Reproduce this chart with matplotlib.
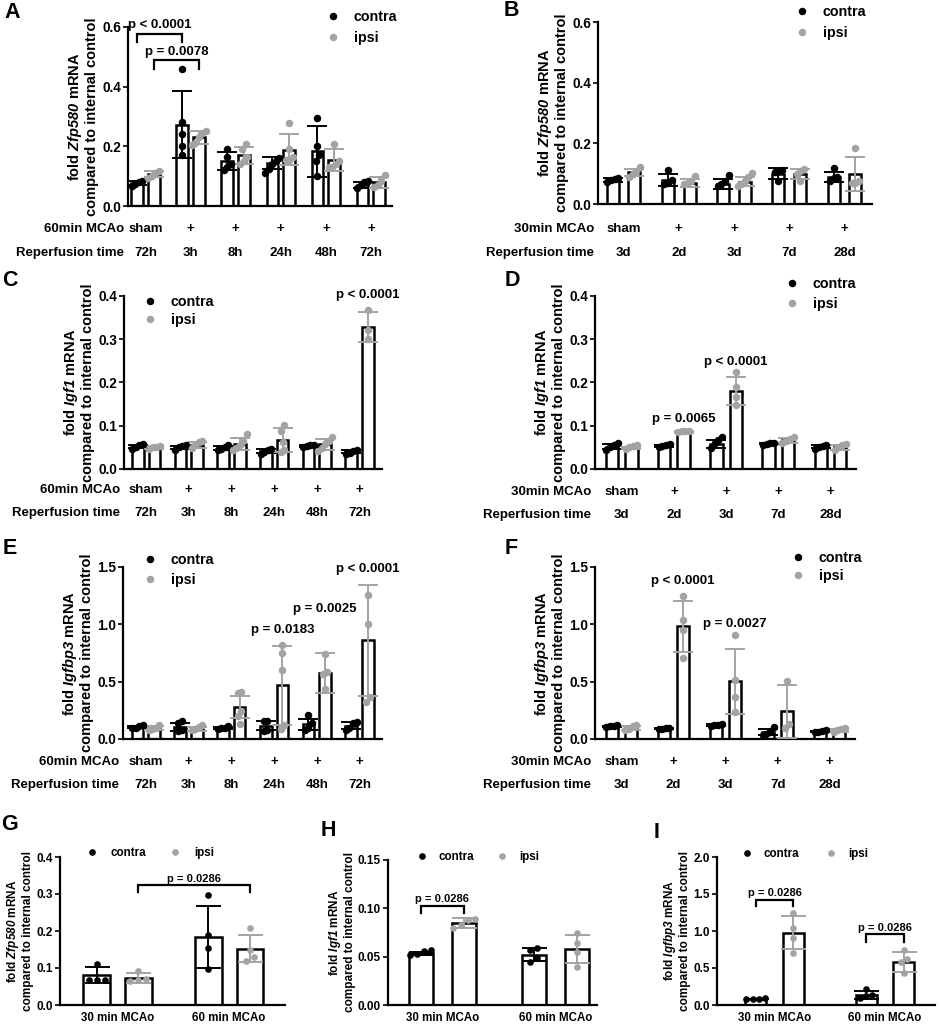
import numpy as np
import matplotlib.pyplot as plt
from matplotlib.lines import Line2D

plt.rcParams['font.family'] = ['Liberation Sans', 'DejaVu Sans']
plt.rcParams['font.weight'] = 'bold'
plt.rcParams['axes.labelweight'] = 'bold'
# gene names are the only math text: keep letters and digits bold italic
plt.rcParams['mathtext.fontset'] = 'custom'
plt.rcParams['mathtext.rm'] = 'Liberation Sans:italic:bold'
plt.rcParams['mathtext.it'] = 'Liberation Sans:italic:bold'
plt.rcParams['mathtext.bf'] = 'Liberation Sans:italic:bold'

W, H = 941, 1025
BLACK = '#000000'
GREY = '#a3a3a3'

# ---------------- data ----------------
mcao_60 = ['sham', '+', '+', '+', '+', '+']
time_60 = ['72h', '3h', '8h', '24h', '48h', '72h']
mcao_30 = ['sham', '+', '+', '+', '+']
time_30 = ['3d', '2d', '3d', '7d', '28d']
groups_gh = ['30 min MCAo', '60 min MCAo']

# A: Zfp580, 60 min MCAo
a_contra_mean = [0.077, 0.273, 0.150, 0.144, 0.183, 0.072]
a_contra_sd = [0.006, 0.112, 0.030, 0.020, 0.085, 0.010]
a_ipsi_mean = [0.106, 0.231, 0.170, 0.189, 0.153, 0.080]
a_ipsi_sd = [0.010, 0.022, 0.028, 0.053, 0.037, 0.018]
a_contra_pts = [[0.085, 0.082, 0.075, 0.068], [0.458, 0.28, 0.24, 0.20, 0.17],
                [0.192, 0.165, 0.14, 0.13, 0.12], [0.16, 0.15, 0.14, 0.125, 0.11],
                [0.296, 0.20, 0.17, 0.15, 0.10], [0.085, 0.08, 0.07, 0.06]]
a_ipsi_pts = [[0.118, 0.112, 0.10, 0.095], [0.252, 0.245, 0.23, 0.21, 0.205],
              [0.208, 0.192, 0.165, 0.15, 0.14], [0.279, 0.19, 0.165, 0.155, 0.155],
              [0.207, 0.15, 0.14, 0.13, 0.13], [0.105, 0.085, 0.07, 0.065]]

# B: Zfp580, 30 min MCAo
b_contra_mean = [0.080, 0.080, 0.066, 0.100, 0.089]
b_contra_sd = [0.006, 0.020, 0.015, 0.018, 0.018]
b_ipsi_mean = [0.104, 0.069, 0.074, 0.100, 0.100]
b_ipsi_sd = [0.012, 0.012, 0.016, 0.017, 0.056]
b_contra_pts = [[0.085, 0.083, 0.078, 0.072], [0.112, 0.08, 0.07, 0.065],
                [0.095, 0.075, 0.065, 0.06], [0.112, 0.11, 0.105, 0.075],
                [0.12, 0.09, 0.085, 0.075]]
b_ipsi_pts = [[0.122, 0.11, 0.10, 0.09], [0.092, 0.075, 0.07, 0.065],
              [0.102, 0.09, 0.075, 0.065, 0.06], [0.115, 0.11, 0.10, 0.075],
              [0.184, 0.075, 0.07, 0.07]]

# C: Igf1, 60 min MCAo
c_contra_mean = [0.052, 0.050, 0.049, 0.042, 0.054, 0.040]
c_contra_sd = [0.004, 0.004, 0.005, 0.005, 0.002, 0.004]
c_ipsi_mean = [0.050, 0.056, 0.058, 0.067, 0.057, 0.329]
c_ipsi_sd = [0.003, 0.007, 0.014, 0.027, 0.013, 0.035]
c_contra_pts = [[0.058, 0.055, 0.05, 0.047], [0.055, 0.053, 0.05, 0.045],
                [0.056, 0.05, 0.047, 0.044], [0.047, 0.045, 0.04, 0.035],
                [0.056, 0.055, 0.054, 0.052], [0.045, 0.042, 0.038, 0.035]]
c_ipsi_pts = [[0.054, 0.051, 0.05, 0.047], [0.065, 0.062, 0.055, 0.048],
              [0.08, 0.065, 0.055, 0.048, 0.043], [0.102, 0.088, 0.062, 0.045, 0.04],
              [0.073, 0.065, 0.058, 0.048, 0.042], [0.368, 0.321, 0.30]]

# D: Igf1, 30 min MCAo
d_contra_mean = [0.052, 0.054, 0.058, 0.059, 0.052]
d_contra_sd = [0.006, 0.002, 0.010, 0.002, 0.004]
d_ipsi_mean = [0.049, 0.086, 0.181, 0.066, 0.050]
d_ipsi_sd = [0.003, 0.002, 0.032, 0.006, 0.005]
d_contra_pts = [[0.061, 0.055, 0.05, 0.045], [0.057, 0.055, 0.054, 0.052],
                [0.073, 0.068, 0.06, 0.048], [0.061, 0.06, 0.058, 0.056],
                [0.055, 0.053, 0.05, 0.046]]
d_ipsi_pts = [[0.055, 0.053, 0.05, 0.047], [0.089, 0.088, 0.087, 0.085],
              [0.224, 0.19, 0.166, 0.148], [0.075, 0.07, 0.065, 0.06],
              [0.057, 0.055, 0.05, 0.045]]

# E: Igfbp3, 60 min MCAo
e_contra_mean = [0.105, 0.105, 0.098, 0.115, 0.130, 0.115]
e_contra_sd = [0.008, 0.035, 0.010, 0.040, 0.048, 0.030]
e_ipsi_mean = [0.096, 0.090, 0.280, 0.470, 0.578, 0.860]
e_ipsi_sd = [0.017, 0.018, 0.095, 0.345, 0.175, 0.485]
e_contra_pts = [[0.12, 0.11, 0.10, 0.095], [0.154, 0.14, 0.08, 0.07],
                [0.11, 0.10, 0.095, 0.09], [0.16, 0.155, 0.08, 0.07],
                [0.212, 0.14, 0.10, 0.08], [0.15, 0.14, 0.10, 0.08]]
e_ipsi_pts = [[0.12, 0.10, 0.09, 0.08], [0.12, 0.105, 0.09, 0.075],
              [0.41, 0.405, 0.245, 0.20, 0.134], [0.817, 0.753, 0.605, 0.12, 0.09],
              [0.744, 0.58, 0.57, 0.433], [1.253, 1.006, 0.366, 0.323]]

# F: Igfbp3, 30 min MCAo
f_contra_mean = [0.110, 0.090, 0.120, 0.061, 0.067]
f_contra_sd = [0.007, 0.007, 0.007, 0.030, 0.007]
f_ipsi_mean = [0.096, 0.985, 0.503, 0.240, 0.075]
f_ipsi_sd = [0.020, 0.222, 0.285, 0.235, 0.016]
f_contra_pts = [[0.12, 0.115, 0.11, 0.105], [0.10, 0.095, 0.09, 0.085],
                [0.13, 0.125, 0.12, 0.115], [0.105, 0.06, 0.045, 0.035],
                [0.075, 0.07, 0.065, 0.06]]
f_ipsi_pts = [[0.125, 0.11, 0.09, 0.08], [1.244, 1.035, 0.948, 0.709],
              [0.904, 0.517, 0.366, 0.235], [0.503, 0.134, 0.096],
              [0.095, 0.09, 0.08, 0.06]]

# G: Zfp580, 3d reperfusion
g_contra_mean = [0.081, 0.184]
g_contra_sd = [0.022, 0.083]
g_ipsi_mean = [0.073, 0.152]
g_ipsi_sd = [0.013, 0.037]
g_contra_pts = [[0.112, 0.068, 0.068, 0.068], [0.296, 0.188, 0.154, 0.097]]
g_ipsi_pts = [[0.091, 0.07, 0.068, 0.065], [0.208, 0.15, 0.13, 0.12]]

# H: Igf1
h_contra_mean = [0.0535, 0.052]
h_contra_sd = [0.0015, 0.0065]
h_ipsi_mean = [0.0848, 0.0576]
h_ipsi_sd = [0.0055, 0.0145]
h_contra_pts = [[0.0565, 0.0555, 0.053, 0.052], [0.0587, 0.057, 0.049, 0.044]]
h_ipsi_pts = [[0.0887, 0.088, 0.083, 0.0795], [0.074, 0.064, 0.055, 0.0397]]

# I: Igfbp3
i_contra_mean = [0.080, 0.135]
i_contra_sd = [0.004, 0.050]
i_ipsi_mean = [0.975, 0.585]
i_ipsi_sd = [0.222, 0.137]
i_contra_pts = [[0.09, 0.085, 0.085, 0.08], [0.211, 0.135, 0.12, 0.09]]
i_ipsi_pts = [[1.245, 1.034, 0.912, 0.706], [0.75, 0.616, 0.575, 0.427]]


def px_rect(l, t, r, b):
    return [l / W, 1 - b / H, (r - l) / W, (b - t) / H]


def spread(vals, thr, step):
    # simple column-scatter layout: points closer than thr get pushed sideways
    vals = np.asarray(vals, float)
    order = np.argsort(vals)
    offs = np.zeros(len(vals))
    clusters, cur = [], [order[0]]
    for i in order[1:]:
        if vals[i] - vals[cur[-1]] < thr:
            cur.append(i)
        else:
            clusters.append(cur)
            cur = [i]
    clusters.append(cur)
    for c in clusters:
        k = len(c)
        for j, idx in enumerate(c):
            offs[idx] = (j - (k - 1) / 2) * step
    return offs


def draw_series(ax, x, means, sds, pts, color, bw, thr, step, ms, cap):
    ax.bar(x, means, width=bw, color='white', edgecolor='black', linewidth=1.8, zorder=2)
    ax.errorbar(x, means, yerr=sds, fmt='none', ecolor=color, elinewidth=1.4,
                capsize=cap, capthick=1.4, zorder=3)
    for xx, p in zip(x, pts):
        off = spread(p, thr, step)
        ax.plot(xx + off, p, 'o', color=color, markersize=ms, markeredgewidth=0,
                zorder=4, clip_on=False)


def bracket(ax, x1, x2, y, h, text, fs):
    ax.plot([x1, x1, x2, x2], [y - h, y, y, y - h], color='black', lw=1.6,
            solid_joinstyle='miter', zorder=5, clip_on=False)
    ax.text((x1 + x2) / 2, y + h * 0.25, text, ha='center', va='bottom',
            fontsize=fs, fontweight='bold')


def style_axes(ax, ymax, yticks, fmt, tick_fs):
    for s in ['top', 'right']:
        ax.spines[s].set_visible(False)
    for s in ['left', 'bottom']:
        ax.spines[s].set_linewidth(1.6)
    ax.set_ylim(0, ymax)
    ax.set_yticks(yticks)
    ax.set_yticklabels([fmt % t for t in yticks], fontsize=tick_fs, fontweight='bold')
    ax.tick_params(axis='y', direction='out', length=3.6, width=1.2, pad=1.5)
    ax.tick_params(axis='x', length=0)
    ax.patch.set_alpha(0)


def add_legend(ax, fig, x_marker, y_row, fs, ms, pad, spacing, ncol=1, colsp=0):
    hl = 1.0
    fs_px = fs * 100 / 72
    x0 = x_marker - hl * fs_px / 2
    y0 = y_row - fs_px * 0.62
    handles = [Line2D([], [], ls='none', marker='o', color=BLACK, markersize=ms, markeredgewidth=0),
               Line2D([], [], ls='none', marker='o', color=GREY, markersize=ms, markeredgewidth=0)]
    ax.legend(handles, ['contra', 'ipsi'], loc='upper left',
              bbox_to_anchor=(x0 / W, 1 - y0 / H), bbox_transform=fig.transFigure,
              frameon=False, borderpad=0, borderaxespad=0, handlelength=hl,
              handletextpad=pad, labelspacing=spacing, ncol=ncol, columnspacing=colsp,
              prop={'size': fs, 'weight': 'bold'})


fig = plt.figure(figsize=(W / 100, H / 100), dpi=100)

top_panels = [
    dict(rect=(128, 27, 392, 206), gene='Zfp580', ymax=0.6, yt=[0, 0.2, 0.4, 0.6], fmt='%.1f',
         gs=2.7, bw=0.7, xlim=(-0.54, 15.26), mcao='60min MCAo', mc=mcao_60, tm=time_60,
         data=(a_contra_mean, a_contra_sd, a_contra_pts, a_ipsi_mean, a_ipsi_sd, a_ipsi_pts),
         leg=(333, 19, 0.45), rows=(23, 47), letter=('A', 12, 12)),
    dict(rect=(598, 22, 872, 204), gene='Zfp580', ymax=0.6, yt=[0, 0.2, 0.4, 0.6], fmt='%.1f',
         gs=2.55, bw=0.55, xlim=(-0.68, 11.97), mcao='30min MCAo', mc=mcao_30, tm=time_30,
         data=(b_contra_mean, b_contra_sd, b_contra_pts, b_ipsi_mean, b_ipsi_sd, b_ipsi_pts),
         leg=(802, 14, 0.45), rows=(25, 49), letter=('B', 511, 11)),
    dict(rect=(124, 296, 382, 469), gene='Igf1', ymax=0.4, yt=[0, 0.1, 0.2, 0.3, 0.4], fmt='%.1f',
         gs=2.56, bw=0.7, xlim=(-0.82, 14.64), mcao='60min MCAo', mc=mcao_60, tm=time_60,
         data=(c_contra_mean, c_contra_sd, c_contra_pts, c_ipsi_mean, c_ipsi_sd, c_ipsi_pts),
         leg=(150, 304, 0.3), rows=(21, 44), letter=('C', 10, 280)),
    dict(rect=(595, 296, 856, 469), gene='Igf1', ymax=0.4, yt=[0, 0.1, 0.2, 0.3, 0.4], fmt='%.1f',
         gs=2.7, bw=0.64, xlim=(-0.88, 12.62), mcao='30min MCAo', mc=mcao_30, tm=time_30,
         data=(d_contra_mean, d_contra_sd, d_contra_pts, d_ipsi_mean, d_ipsi_sd, d_ipsi_pts),
         leg=(792, 286, 0.4), rows=(23, 46), letter=('D', 512, 280)),
    dict(rect=(123, 567, 382, 739), gene='Igfbp3', ymax=1.5, yt=[0, 0.5, 1.0, 1.5], fmt='%.1f',
         gs=2.56, bw=0.7, xlim=(-0.86, 14.64), mcao='60min MCAo', mc=mcao_60, tm=time_60,
         data=(e_contra_mean, e_contra_sd, e_contra_pts, e_ipsi_mean, e_ipsi_sd, e_ipsi_pts),
         leg=(150, 562, 0.4), rows=(23, 46), letter=('E', 10, 548)),
    dict(rect=(595, 567, 855, 739), gene='Igfbp3', ymax=1.5, yt=[0, 0.5, 1.0, 1.5], fmt='%.1f',
         gs=2.74, bw=0.64, xlim=(-0.89, 12.79), mcao='30min MCAo', mc=mcao_30, tm=time_30,
         data=(f_contra_mean, f_contra_sd, f_contra_pts, f_ipsi_mean, f_ipsi_sd, f_ipsi_pts),
         leg=(798, 560, 0.3), rows=(23, 46), letter=('F', 511, 548)),
]

axes = []
for p in top_panels:
    l, t, r, b = p['rect']
    ax = fig.add_axes(px_rect(l, t, r, b))
    axes.append(ax)
    style_axes(ax, p['ymax'], p['yt'], p['fmt'], 9.8)
    cm, cs, cp, im, isd, ip = p['data']
    n = len(cm)
    xc = np.arange(n) * p['gs']
    xi = xc + 1
    ms = 5.4
    thr = p['ymax'] * 6.5 / (b - t)
    step = p['bw'] * 0.3
    draw_series(ax, xc, cm, cs, cp, BLACK, p['bw'], thr, step, ms, 7)
    draw_series(ax, xi, im, isd, ip, GREY, p['bw'], thr, step, ms, 7)
    ax.set_xlim(*p['xlim'])
    ax.set_xticks([])
    ax.set_ylabel('fold $%s$ mRNA\ncompared to internal control' % p['gene'],
                  fontsize=10.5, fontweight='bold', labelpad=2, linespacing=1.1)
    r1, r2 = p['rows']
    for k in range(n):
        xm = (xc[k] + xi[k]) / 2
        ax.annotate(p['mc'][k], xy=(xm, 0), xycoords=('data', 'axes fraction'),
                    xytext=(0, -r1 * 0.72), textcoords='offset points',
                    ha='center', va='center', fontsize=9.5, fontweight='bold')
        ax.annotate(p['tm'][k], xy=(xm, 0), xycoords=('data', 'axes fraction'),
                    xytext=(0, -r2 * 0.72), textcoords='offset points',
                    ha='center', va='center', fontsize=9.5, fontweight='bold')
    ax.annotate(p['mcao'], xy=(0, 0), xycoords='axes fraction', xytext=(-3, -r1 * 0.72),
                textcoords='offset points', ha='right', va='center', fontsize=9.5, fontweight='bold')
    ax.annotate('Reperfusion time', xy=(0, 0), xycoords='axes fraction', xytext=(-3, -r2 * 0.72),
                textcoords='offset points', ha='right', va='center', fontsize=9.5, fontweight='bold')
    lx, ly, lsp = p['leg']
    add_legend(ax, fig, lx, ly, 10.3, ms, 0.95, lsp)
    p['xc'], p['xi'] = xc, xi
    letter, fx, fy = p['letter']
    fig.text(fx / W, 1 - fy / H, letter, fontsize=15.5, fontweight='bold', ha='center', va='center')

# significance annotations, top panels
axA, axB, axC, axD, axE, axF = axes
pa, pc, pd, pe, pf = top_panels[0], top_panels[2], top_panels[3], top_panels[4], top_panels[5]
PFS = 9.5
bracket(axA, pa['xc'][0], pa['xc'][1], 0.578, 0.028, 'p < 0.0001', PFS)
bracket(axA, pa['xi'][0], pa['xi'][1], 0.488, 0.028, 'p = 0.0078', PFS)
axC.text(pc['xi'][5], 0.402, 'p < 0.0001', ha='center', va='center', fontsize=PFS, fontweight='bold')
axD.text(pd['xi'][1], 0.115, 'p = 0.0065', ha='center', va='center', fontsize=PFS, fontweight='bold')
axD.text(pd['xi'][2], 0.248, 'p < 0.0001', ha='center', va='center', fontsize=PFS, fontweight='bold')
axE.text(pe['xi'][3], 0.948, 'p = 0.0183', ha='center', va='center', fontsize=PFS, fontweight='bold')
axE.text(pe['xi'][4], 1.137, 'p = 0.0025', ha='center', va='center', fontsize=PFS, fontweight='bold')
axE.text(pe['xi'][5], 1.48, 'p < 0.0001', ha='center', va='center', fontsize=PFS, fontweight='bold')
axF.text(pf['xi'][1], 1.375, 'p < 0.0001', ha='center', va='center', fontsize=PFS, fontweight='bold')
axF.text(pf['xi'][2], 1.006, 'p = 0.0027', ha='center', va='center', fontsize=PFS, fontweight='bold')

# ---------------- bottom row ----------------
bottom_panels = [
    dict(rect=(60, 857, 285, 1005), gene='Zfp580', ymax=0.4, yt=[0, 0.1, 0.2, 0.3, 0.4], fmt='%.1f',
         gs=2.68, bw=0.64, xlim=(-0.88, 4.52),
         data=(g_contra_mean, g_contra_sd, g_contra_pts, g_ipsi_mean, g_ipsi_sd, g_ipsi_pts),
         leg=(92, 854, 1.1, 2.0), letter=('G', 10, 825)),
    dict(rect=(388, 860, 597, 1005), gene='Igf1', ymax=0.15, yt=[0, 0.05, 0.10, 0.15], fmt='%.2f',
         gs=2.6, bw=0.55, xlim=(-0.75, 4.05),
         data=(h_contra_mean, h_contra_sd, h_contra_pts, h_ipsi_mean, h_ipsi_sd, h_ipsi_pts),
         leg=(422, 858, 0.95, 1.85), letter=('H', 328, 831)),
    dict(rect=(717, 857, 935, 1005), gene='Igfbp3', ymax=2.0, yt=[0, 0.5, 1.0, 1.5, 2.0], fmt='%.1f',
         gs=2.94, bw=0.55, xlim=(-1.03, 4.77),
         data=(i_contra_mean, i_contra_sd, i_contra_pts, i_ipsi_mean, i_ipsi_sd, i_ipsi_pts),
         leg=(747, 855, 0.95, 2.2), letter=('I', 657, 832)),
]

baxes = []
for p in bottom_panels:
    l, t, r, b = p['rect']
    ax = fig.add_axes(px_rect(l, t, r, b))
    baxes.append(ax)
    style_axes(ax, p['ymax'], p['yt'], p['fmt'], 8.5)
    cm, cs, cp, im, isd, ip = p['data']
    xc = np.arange(len(cm)) * p['gs']
    xi = xc + 1
    ms = 4.8
    thr = p['ymax'] * 5.5 / (b - t)
    step = p['bw'] * 0.3
    draw_series(ax, xc, cm, cs, cp, BLACK, p['bw'], thr, step, ms, 9)
    draw_series(ax, xi, im, isd, ip, GREY, p['bw'], thr, step, ms, 9)
    ax.set_xlim(*p['xlim'])
    ax.set_xticks((xc + xi) / 2)
    ax.set_xticklabels(groups_gh, fontsize=8.3, fontweight='bold')
    ax.tick_params(axis='x', pad=5)
    ax.set_ylabel('fold $%s$ mRNA\ncompared to internal control' % p['gene'],
                  fontsize=8.5, fontweight='bold', labelpad=1.5, linespacing=1.1)
    lx, ly, pad, colsp = p['leg']
    add_legend(ax, fig, lx, ly, 8.4, ms, pad, 0.3, ncol=2, colsp=colsp)
    p['xc'], p['xi'] = xc, xi
    letter, fx, fy = p['letter']
    fig.text(fx / W, 1 - fy / H, letter, fontsize=15.5, fontweight='bold', ha='center', va='center')

axG, axH, axI = baxes
pg, ph, pi = bottom_panels
bracket(axG, pg['xi'][0], pg['xi'][1], 0.323, 0.018, 'p = 0.0286', 8)
bracket(axH, ph['xc'][0], ph['xi'][0], 0.1025, 0.0075, 'p = 0.0286', 8)
bracket(axI, pi['xc'][0], pi['xi'][0], 1.425, 0.09, 'p = 0.0286', 8)
bracket(axI, pi['xc'][1], pi['xi'][1], 0.953, 0.10, 'p = 0.0286', 8)

fig.savefig('out.png', dpi=100)
